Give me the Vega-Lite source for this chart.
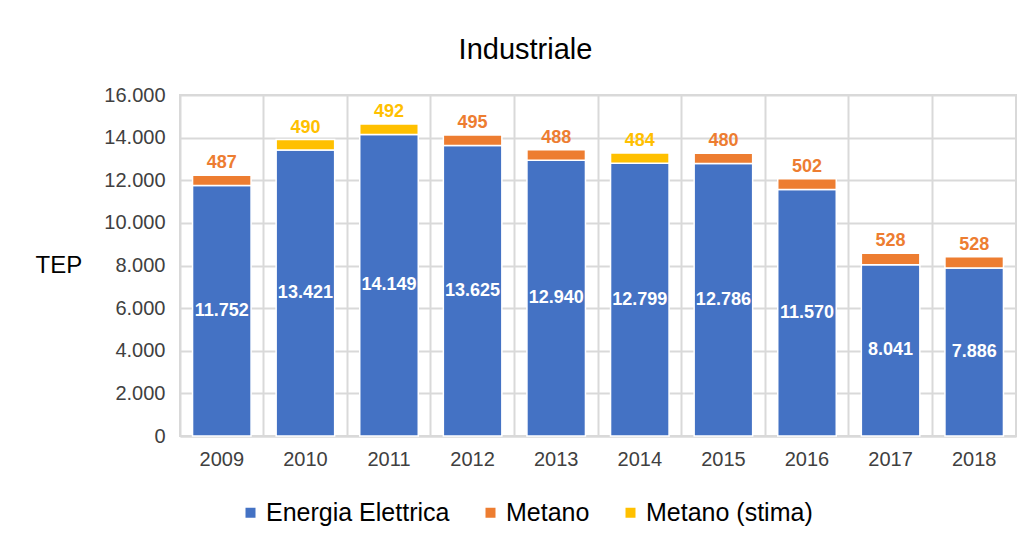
{
  "$schema": "https://vega.github.io/schema/vega-lite/v6.json",
  "width": 836,
  "height": 341,
  "padding": {"left": 35, "top": 36, "right": 10, "bottom": 5},
  "title": {
    "text": "Industriale",
    "fontSize": 29,
    "font": "Liberation Sans",
    "fontWeight": "normal",
    "color": "#000000",
    "anchor": "middle",
    "frame": "bounds",
    "offset": 20
  },
  "data": {
    "values": [
      {"year": "2009", "category": "Energia Elettrica", "value": 11752},
      {"year": "2009", "category": "Metano", "value": 487},
      {"year": "2010", "category": "Energia Elettrica", "value": 13421},
      {"year": "2010", "category": "Metano (stima)", "value": 490},
      {"year": "2011", "category": "Energia Elettrica", "value": 14149},
      {"year": "2011", "category": "Metano (stima)", "value": 492},
      {"year": "2012", "category": "Energia Elettrica", "value": 13625},
      {"year": "2012", "category": "Metano", "value": 495},
      {"year": "2013", "category": "Energia Elettrica", "value": 12940},
      {"year": "2013", "category": "Metano", "value": 488},
      {"year": "2014", "category": "Energia Elettrica", "value": 12799},
      {"year": "2014", "category": "Metano (stima)", "value": 484},
      {"year": "2015", "category": "Energia Elettrica", "value": 12786},
      {"year": "2015", "category": "Metano", "value": 480},
      {"year": "2016", "category": "Energia Elettrica", "value": 11570},
      {"year": "2016", "category": "Metano", "value": 502},
      {"year": "2017", "category": "Energia Elettrica", "value": 8041},
      {"year": "2017", "category": "Metano", "value": 528},
      {"year": "2018", "category": "Energia Elettrica", "value": 7886},
      {"year": "2018", "category": "Metano", "value": 528}
    ]
  },
  "encoding": {
    "x": {
      "field": "year",
      "type": "nominal",
      "scale": {"paddingInner": 0, "paddingOuter": 0},
      "axis": {
        "title": null,
        "labelAngle": 0,
        "labelFontSize": 20,
        "labelFont": "Liberation Sans",
        "labelColor": "#404040",
        "labelPadding": 13,
        "ticks": false,
        "tickSize": 0,
        "domain": true,
        "domainColor": "#D9D9D9",
        "domainWidth": 2,
        "grid": true,
        "gridColor": "#D9D9D9",
        "gridWidth": 2,
        "bandPosition": 0
      }
    }
  },
  "layer": [
    {
      "mark": {"type": "bar", "width": {"band": 0.7}, "stroke": "white", "strokeWidth": 1.5},
      "encoding": {
        "y": {
          "field": "value",
          "type": "quantitative",
          "stack": "zero",
          "scale": {"domain": [0, 16000], "nice": false},
          "axis": {
            "title": "TEP",
            "titleAngle": 0,
            "titleX": -145,
            "titleY": 170.5,
            "titleAlign": "left",
            "titleBaseline": "middle",
            "titleFontSize": 24,
            "titleFont": "Liberation Sans",
            "titleFontWeight": "normal",
            "titleColor": "#000000",
            "values": [0, 2000, 4000, 6000, 8000, 10000, 12000, 14000, 16000],
            "format": ",d",
            "labelFontSize": 20,
            "labelFont": "Liberation Sans",
            "labelColor": "#404040",
            "labelPadding": 15,
            "ticks": false,
            "tickSize": 0,
            "domain": false,
            "grid": true,
            "gridColor": "#D9D9D9",
            "gridWidth": 2
          }
        },
        "order": {"field": "category", "sort": "ascending"},
        "color": {
          "field": "category",
          "type": "nominal",
          "scale": {
            "domain": ["Energia Elettrica", "Metano", "Metano (stima)"],
            "range": ["#4472C4", "#ED7D31", "#FFC000"]
          },
          "legend": {
            "title": null,
            "orient": "none",
            "direction": "horizontal",
            "legendX": 58,
            "legendY": 405,
            "symbolType": "square",
            "symbolSize": 100,
            "symbolStrokeWidth": 0,
            "labelFontSize": 25,
            "labelFont": "Liberation Sans",
            "labelColor": "#000000",
            "labelOffset": 3,
            "labelLimit": 0,
            "columnPadding": 28,
            "padding": 0
          }
        }
      }
    },
    {
      "transform": [{"filter": "datum.category === 'Energia Elettrica'"}],
      "mark": {"type": "text", "color": "white", "fontSize": 18, "fontWeight": "bold", "font": "Liberation Sans", "baseline": "middle"},
      "encoding": {
        "y": {"field": "value", "type": "quantitative", "stack": "zero", "bandPosition": 0.5},
        "detail": {"field": "category"},
        "text": {"field": "value", "type": "quantitative", "format": ",d"}
      }
    },
    {
      "mark": {"type": "text", "fontSize": 18, "fontWeight": "bold", "font": "Liberation Sans", "baseline": "alphabetic", "dy": -7},
      "encoding": {
        "y": {"field": "value", "type": "quantitative", "stack": "zero"},
        "order": {"field": "category", "sort": "ascending"},
        "color": {"field": "category", "type": "nominal", "legend": null},
        "opacity": {"condition": {"test": "datum.category === 'Energia Elettrica'", "value": 0}, "value": 1},
        "text": {"field": "value", "type": "quantitative", "format": ",d"}
      }
    }
  ],
  "config": {
    "locale": {"number": {"decimal": ",", "thousands": ".", "grouping": [3], "currency": ["€", ""]}},
    "view": {"stroke": "#D9D9D9", "strokeWidth": 2},
    "background": "white"
  }
}
